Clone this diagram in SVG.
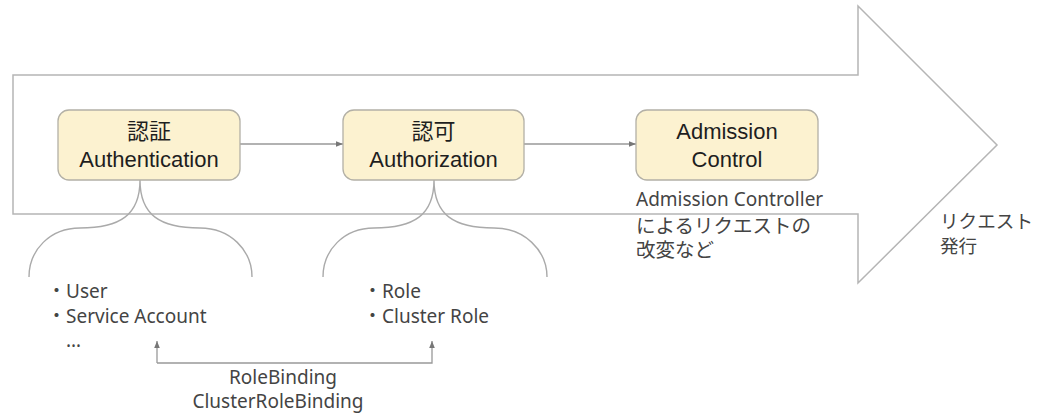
<svg xmlns="http://www.w3.org/2000/svg" width="1045" height="417" viewBox="0 0 1045 417">
  <style>
    .outline { fill: none; stroke: #b5b5b5; stroke-width: 1.5; }
    .box { fill: #fcf2d0; stroke: #b3b0a6; stroke-width: 1.3; }
    .boxtext { font-family: "Liberation Sans", Arial, "Noto Sans CJK JP", sans-serif; font-size: 22px; fill: #1e1e1e; text-anchor: middle; }
    .note { font-family: "Noto Sans", "Noto Sans CJK JP", sans-serif; font-size: 19px; fill: #444; }
    .jp { font-family: "Noto Sans CJK JP", sans-serif; font-size: 19.5px; fill: #444; }
    .jp2 { font-family: "Noto Sans CJK JP", sans-serif; font-size: 18.6px; fill: #444; }
    .conn { fill: none; stroke: #999; stroke-width: 1.3; }
    .brace { fill: none; stroke: #aaa; stroke-width: 1.4; }
  </style>
  <defs>
    <marker id="ah" viewBox="0 0 10 10" refX="10" refY="5" markerWidth="7" markerHeight="7" markerUnits="userSpaceOnUse" orient="auto">
      <path d="M0,1 L10,5 L0,9 z" fill="#777"/>
    </marker>
  </defs>
  <rect width="1045" height="417" fill="#fff"/>

  <g id="big-arrow">
    <polygon class="outline" points="13,75 858,75 858,6 997,145 858,283 858,214 13,214"/>
  </g>

  <g id="braces">
    <path class="brace" d="M29,277 C29,250 50,228 80,228 C120,228 140,215 140,180 C140,215 160,228 200,228 C230,228 252,250 252,277"/>
    <path class="brace" d="M323,277 C323,250 344,228 374,228 C414,228 434,215 434,180 C434,215 454,228 494,228 C524,228 547,250 547,277"/>
  </g>

  <g id="connectors">
    <line class="conn" x1="240" y1="144" x2="343" y2="144" marker-end="url(#ah)"/>
    <line class="conn" x1="524" y1="144" x2="636" y2="144" marker-end="url(#ah)"/>
    <path class="conn" d="M157,363 L157,341" marker-end="url(#ah)"/>
    <path class="conn" d="M157,363 L432,363 L432,341" marker-end="url(#ah)"/>
  </g>

  <g id="node-authn">
    <rect class="box" x="58" y="110" width="182" height="70" rx="11"/>
    <text class="boxtext" x="149" y="139">認証</text>
    <text class="boxtext" x="149" y="167">Authentication</text>
  </g>

  <g id="node-authz">
    <rect class="box" x="343" y="110" width="181" height="70" rx="11"/>
    <text class="boxtext" x="433.5" y="139">認可</text>
    <text class="boxtext" x="433.5" y="167">Authorization</text>
  </g>

  <g id="node-admission">
    <rect class="box" x="636" y="110" width="182" height="70" rx="11"/>
    <text class="boxtext" x="727" y="139">Admission</text>
    <text class="boxtext" x="727" y="167">Control</text>
  </g>

  <g id="admission-note">
    <text class="note" x="636" y="206">Admission Controller</text>
    <text class="jp" x="636" y="233">によるリクエストの</text>
    <text class="jp" x="636" y="257">改変など</text>
  </g>

  <g id="request-label">
    <text class="jp2" x="940" y="228">リクエスト</text>
    <text class="jp2" x="940" y="253">発行</text>
  </g>

  <g id="authn-list">
    <text class="note" x="47" y="298">・User</text>
    <text class="note" x="47" y="323">・Service Account</text>
    <text class="note" x="66" y="347">…</text>
  </g>

  <g id="authz-list">
    <text class="note" x="363" y="298">・Role</text>
    <text class="note" x="363" y="323">・Cluster Role</text>
  </g>

  <g id="binding-label">
    <text class="note" x="283" y="384" text-anchor="middle">RoleBinding</text>
    <text class="note" x="278" y="408" text-anchor="middle">ClusterRoleBinding</text>
  </g>
</svg>
